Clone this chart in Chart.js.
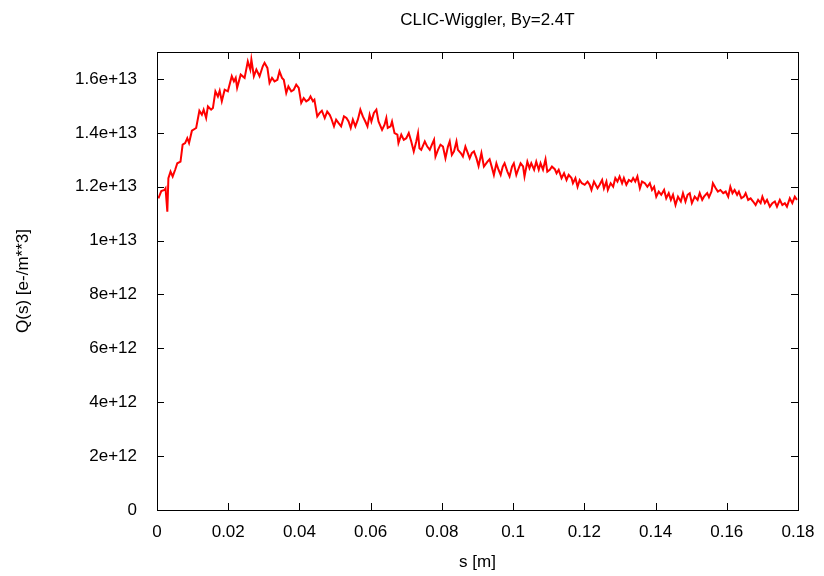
<!DOCTYPE html>
<html>
<head>
<meta charset="utf-8">
<script src="https://cdn.jsdelivr.net/npm/chart.js@4/dist/chart.umd.min.js"></script>
<style>
  html, body { margin: 0; padding: 0; background: #ffffff; }
  #wrap { width: 824px; height: 576px; position: relative; }
</style>
</head>
<body>
<div id="wrap"><canvas id="c" width="824" height="576"></canvas></div>
<script>
// ---- data ----
const chartTitle = 'CLIC-Wiggler, By=2.4T';
const xTitle = 's [m]';
const yTitle = 'Q(s) [e-/m**3]';

const xTicks = [0, 0.02, 0.04, 0.06, 0.08, 0.1, 0.12, 0.14, 0.16, 0.18];
const xTickLabels = ['0', '0.02', '0.04', '0.06', '0.08', '0.1', '0.12', '0.14', '0.16', '0.18'];
const yTicks = [0, 2e12, 4e12, 6e12, 8e12, 1e13, 1.2e13, 1.4e13, 1.6e13];
const yTickLabels = ['0', '2e+12', '4e+12', '6e+12', '8e+12', '1e+13', '1.2e+13', '1.4e+13', '1.6e+13'];

const qUnit = 1e12; // q values below are given in units of 1e12 e-/m^3

const sValues = [
  0.0004,0.0012,0.0021,0.0024,0.0029,0.0032,0.0038,0.0044,0.0051,0.0057,
  0.0066,0.0072,0.0079,0.0085,0.0090,0.0098,0.0110,0.0119,0.0126,0.0131,
  0.0138,0.0143,0.0152,0.0157,0.0164,0.0171,0.0176,0.0182,0.0190,0.0199,
  0.0210,0.0216,0.0221,0.0225,0.0235,0.0246,0.0255,0.0262,0.0265,0.0272,
  0.0279,0.0288,0.0297,0.0302,
  0.0310,0.0316,0.0323,0.0330,0.0338,0.0344,0.0351,0.0356,0.0363,0.0369,
  0.0377,0.0384,0.0391,0.0398,0.0405,0.0412,0.0419,0.0426,0.0431,0.0438,
  0.0442,0.0450,0.0457,0.0463,0.0471,0.0478,0.0485,0.0489,0.0497,0.0503,
  0.0510,0.0517,0.0525,0.0532,0.0538,0.0544,0.0550,0.0557,0.0564,0.0571,
  0.0578,0.0585,0.0591,0.0597,0.0602,0.0609,
  0.0616,0.0622,0.0632,0.0639,0.0644,0.0648,0.0656,0.0660,0.0667,0.0675,
  0.0678,0.0686,0.0693,0.0700,0.0707,0.0714,0.0721,0.0728,0.0733,0.0737,
  0.0742,0.0752,0.0759,0.0766,0.0772,0.0778,0.0782,0.0789,0.0796,0.0803,
  0.0810,0.0817,0.0822,0.0828,0.0834,0.0841,0.0845,0.0853,0.0859,0.0866,
  0.0871,0.0878,0.0884,0.0890,0.0897,0.0903,0.0911,0.0918,
  0.0928,0.0934,0.0941,0.0946,0.0953,0.0959,0.0965,0.0971,0.0976,0.0984,
  0.0990,0.0997,0.1002,0.1009,0.1014,0.1021,0.1028,0.1032,0.1040,0.1046,
  0.1051,0.1059,0.1065,0.1072,0.1077,0.1084,0.1091,0.1096,0.1103,0.1109,
  0.1117,0.1122,0.1128,0.1136,0.1143,0.1150,0.1156,0.1164,0.1168,0.1175,
  0.1181,0.1187,0.1193,0.1201,0.1209,0.1215,0.1220,0.1227,
  0.1237,0.1243,0.1250,0.1255,0.1262,0.1266,0.1274,0.1281,0.1287,0.1293,
  0.1299,0.1306,0.1311,0.1318,0.1325,0.1332,0.1337,0.1343,0.1349,0.1356,
  0.1362,0.1370,0.1377,0.1384,0.1390,0.1396,0.1402,0.1409,0.1416,0.1424,
  0.1430,0.1437,0.1443,0.1449,0.1456,0.1463,0.1471,0.1477,0.1484,0.1490,
  0.1496,0.1502,0.1510,0.1518,0.1524,0.1531,0.1536,
  0.1545,0.1550,0.1557,0.1561,0.1569,0.1575,0.1582,0.1590,0.1597,0.1604,
  0.1610,0.1616,0.1622,0.1629,0.1634,0.1641,0.1648,0.1653,0.1660,0.1667,
  0.1674,0.1681,0.1688,0.1695,0.1700,0.1707,0.1713,0.1721,0.1728,0.1735,
  0.1741,0.1749,0.1756,0.1763,0.1769,0.1777,0.1784,0.1791,0.1797
];

const qValues = [
  11.57,11.84,11.88,11.94,11.07,12.32,12.56,12.38,12.63,12.87,
  12.93,13.56,13.62,13.80,13.62,14.08,14.18,14.82,14.67,14.86,
  14.55,14.98,14.86,14.92,15.54,15.35,15.56,15.17,15.60,15.54,
  16.10,15.91,16.04,15.67,16.16,16.04,16.65,16.35,16.72,16.10,
  16.35,16.10,16.47,16.60,
  16.41,15.85,16.04,15.91,15.97,16.28,16.04,15.97,15.48,15.72,
  15.54,15.60,15.79,15.67,15.11,15.29,15.17,15.23,15.35,15.17,
  15.23,14.61,14.74,14.82,14.55,14.79,14.67,14.55,14.24,14.49,
  14.36,14.24,14.61,14.55,14.42,14.18,14.49,14.24,14.49,14.86,
  14.61,14.42,14.24,14.67,14.42,14.74,
  14.86,14.42,14.11,14.30,14.55,14.18,14.24,14.42,13.99,13.93,
  13.62,13.93,13.74,13.80,13.99,13.68,13.31,13.68,13.99,13.43,
  13.37,13.68,13.49,13.37,13.56,13.74,13.12,13.37,13.56,13.49,
  13.06,13.49,13.68,13.18,13.31,13.68,13.37,13.25,13.12,13.49,
  13.31,13.06,13.25,13.31,13.06,12.77,13.25,12.75,
  12.93,13.02,12.69,12.44,12.87,12.63,12.44,12.75,12.87,12.56,
  12.38,12.75,12.87,12.44,12.63,12.87,12.75,12.38,12.93,12.69,
  12.87,12.63,12.93,12.63,12.87,12.63,13.02,12.56,12.63,12.75,
  12.65,12.50,12.63,12.32,12.50,12.25,12.44,12.32,12.13,12.32,
  12.00,12.25,12.13,12.07,12.19,12.07,11.88,12.19,
  11.94,12.07,12.25,11.94,12.19,11.88,12.13,12.00,12.32,12.19,
  12.38,12.13,12.32,12.07,12.25,12.19,12.32,12.19,12.38,11.94,
  12.19,12.13,12.00,12.13,11.88,12.00,11.63,11.82,11.70,11.88,
  11.57,11.76,11.51,11.70,11.32,11.63,11.45,11.76,11.45,11.70,
  11.76,11.39,11.63,11.51,11.76,11.51,11.63,
  11.76,11.61,11.82,12.13,11.94,11.82,11.88,11.76,11.82,11.63,
  12.00,11.76,11.88,11.70,11.82,11.57,11.63,11.76,11.51,11.57,
  11.45,11.32,11.51,11.39,11.63,11.39,11.51,11.26,11.39,11.45,
  11.26,11.51,11.32,11.39,11.26,11.57,11.39,11.63,11.51
];

// ---- chart ----
const FONT = '"Liberation Sans", Arial, Helvetica, sans-serif';
const points = sValues.map((s, i) => ({ x: s, y: qValues[i] * qUnit }));

const framePlugin = {
  id: 'frameAndTicks',
  afterDraw(chart) {
    const { ctx, chartArea: a, scales } = chart;
    const tl = 7;
    ctx.save();
    ctx.strokeStyle = '#000000';
    ctx.lineWidth = 1;
    ctx.beginPath();
    scales.x.ticks.forEach(t => {
      const px = Math.round(scales.x.getPixelForValue(t.value)) + 0.5;
      ctx.moveTo(px, a.bottom); ctx.lineTo(px, a.bottom - tl);
      ctx.moveTo(px, a.top); ctx.lineTo(px, a.top + tl);
    });
    scales.y.ticks.forEach(t => {
      const py = Math.round(scales.y.getPixelForValue(t.value)) + 0.5;
      ctx.moveTo(a.left, py); ctx.lineTo(a.left + tl, py);
      ctx.moveTo(a.right, py); ctx.lineTo(a.right - tl, py);
    });
    ctx.stroke();
    ctx.strokeRect(Math.round(a.left) + 0.5, Math.round(a.top) + 0.5,
                   Math.round(a.right - a.left), Math.round(a.bottom - a.top));
    // title above the plot area
    ctx.fillStyle = '#000000';
    ctx.font = '17px ' + FONT;
    ctx.textAlign = 'center';
    ctx.textBaseline = 'middle';
    ctx.fillText(chartTitle, (a.left + a.right) / 2 + 10, 20);
    ctx.restore();
  }
};

new Chart(document.getElementById('c'), {
  type: 'line',
  data: {
    datasets: [{
      data: points,
      borderColor: '#ff0000',
      borderWidth: 2,
      pointRadius: 0,
      fill: false,
      tension: 0
    }]
  },
  options: {
    responsive: false,
    animation: false,
    events: [],
    layout: { padding: { top: 52, right: 26, left: 0, bottom: 0 } },
    plugins: { legend: { display: false }, tooltip: { enabled: false }, title: { display: false } },
    scales: {
      x: {
        type: 'linear',
        min: 0, max: 0.18,
        afterBuildTicks: sc => { sc.ticks = xTicks.map(v => ({ value: v })); },
        afterFit: sc => { sc.height = 66; },
        grid: { display: false },
        border: { display: false },
        ticks: {
          autoSkip: false, maxRotation: 0, padding: 4,
          color: '#000000', font: { family: FONT, size: 17 },
          callback: (v, i) => xTickLabels[i]
        },
        title: {
          display: true, text: xTitle, color: '#000000',
          font: { family: FONT, size: 17 }, padding: { top: 0, bottom: 3 }
        }
      },
      y: {
        type: 'linear',
        min: 0, max: 1.7e13,
        afterBuildTicks: sc => { sc.ticks = yTicks.map(v => ({ value: v })); },
        afterFit: sc => { sc.width = 157; },
        grid: { display: false },
        border: { display: false },
        ticks: {
          autoSkip: false, padding: 12,
          color: '#000000', font: { family: FONT, size: 17 },
          callback: (v, i) => yTickLabels[i]
        },
        title: {
          display: true, text: yTitle, color: '#000000',
          font: { family: FONT, size: 17 }, padding: { top: 13, bottom: 0 }
        }
      }
    }
  },
  plugins: [framePlugin]
});
</script>
</body>
</html>
